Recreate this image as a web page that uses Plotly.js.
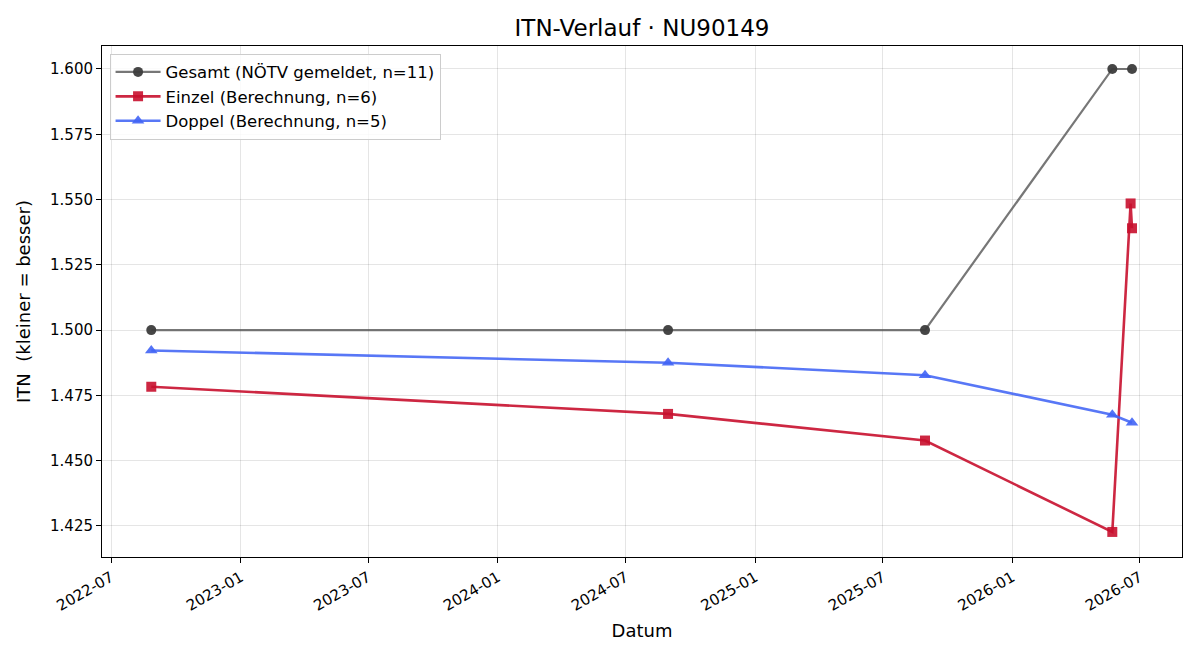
<!DOCTYPE html>
<html>
<head>
<meta charset="utf-8">
<script src="https://cdn.plot.ly/plotly-3.0.1.min.js"></script>
<style>html,body{margin:0;padding:0;background:#fff;}#chart{width:1200px;height:660px;}</style>
</head>
<body>
<div id="chart"></div>
<script>
const gesamtDates = ["2022-08-27", "2024-08-30", "2025-08-30", "2026-05-23", "2026-06-20"];
const gesamtValues = [1.5, 1.5, 1.5, 1.6, 1.6];

const einzelDates = ["2022-08-27", "2024-08-30", "2025-08-30", "2026-05-23", "2026-06-18", "2026-06-20"];
const einzelValues = [1.4783, 1.4679, 1.4577, 1.4227, 1.5485, 1.5390];

const doppelDates = ["2022-08-27", "2024-08-30", "2025-08-30", "2026-05-23", "2026-06-20"];
const doppelValues = [1.4922, 1.4875, 1.4827, 1.4676, 1.4645];

const font = "DejaVu Sans, sans-serif";

const traces = [
  {x: gesamtDates, y: gesamtValues, name: "Gesamt (NÖTV gemeldet, n=11)", mode: "lines+markers",
   line: {color: "rgba(85,85,85,0.8)", width: 2.2}, marker: {symbol: "circle", size: 10, color: "rgba(60,60,60,0.95)"}},
  {x: einzelDates, y: einzelValues, name: "Einzel (Berechnung, n=6)", mode: "lines+markers",
   line: {color: "rgba(200,16,46,0.9)", width: 2.6}, marker: {symbol: "square", size: 10, color: "rgba(200,16,46,0.9)"}},
  {x: doppelDates, y: doppelValues, name: "Doppel (Berechnung, n=5)", mode: "lines+markers",
   line: {color: "rgba(65,100,245,0.88)", width: 2.6}, marker: {symbol: "triangle-up", size: 11, color: "rgba(65,100,245,0.9)"}}
];

const layout = {
  width: 1200, height: 660,
  margin: {l: 102, r: 18, t: 46, b: 103},
  paper_bgcolor: "#fff", plot_bgcolor: "#fff",
  font: {family: font, size: 15, color: "#000"},
  title: {text: "ITN-Verlauf · NU90149", font: {family: font, size: 23, color: "#000"}, xref: "paper", x: 0.5, xanchor: "center", y: 0.958, yanchor: "middle"},
  xaxis: {
    type: "date", range: ["2022-06-18", "2026-08-30"],
    tick0: "2022-07-01", dtick: "M6", tickformat: "%Y-%m", tickangle: -30,
    ticks: "outside", ticklen: 5, tickcolor: "#000",
    showgrid: true, gridcolor: "rgba(0,0,0,0.1)", gridwidth: 1,
    showline: true, linecolor: "#000", linewidth: 1, mirror: true, zeroline: false,
    title: {text: "Datum", font: {family: font, size: 18}, standoff: 10},
    tickfont: {family: font, size: 15}
  },
  yaxis: {
    range: [1.4131, 1.6088], tickvals: [1.425, 1.45, 1.475, 1.5, 1.525, 1.55, 1.575, 1.6],
    tickformat: ".3f",
    ticks: "outside", ticklen: 5, tickcolor: "#000",
    showgrid: true, gridcolor: "rgba(0,0,0,0.1)", gridwidth: 1,
    showline: true, linecolor: "#000", linewidth: 1, mirror: true, zeroline: false,
    title: {text: "ITN  (kleiner = besser)", font: {family: font, size: 18}, standoff: 14},
    tickfont: {family: font, size: 15}
  },
  showlegend: true,
  legend: {x: 0.007, y: 0.985, xanchor: "left", yanchor: "top", bgcolor: "rgba(255,255,255,0.85)",
    bordercolor: "#ccc", borderwidth: 1, font: {family: font, size: 16.5}, itemwidth: 45}
};

Plotly.newPlot("chart", traces, layout, {displayModeBar: false, staticPlot: true});
</script>
</body>
</html>
